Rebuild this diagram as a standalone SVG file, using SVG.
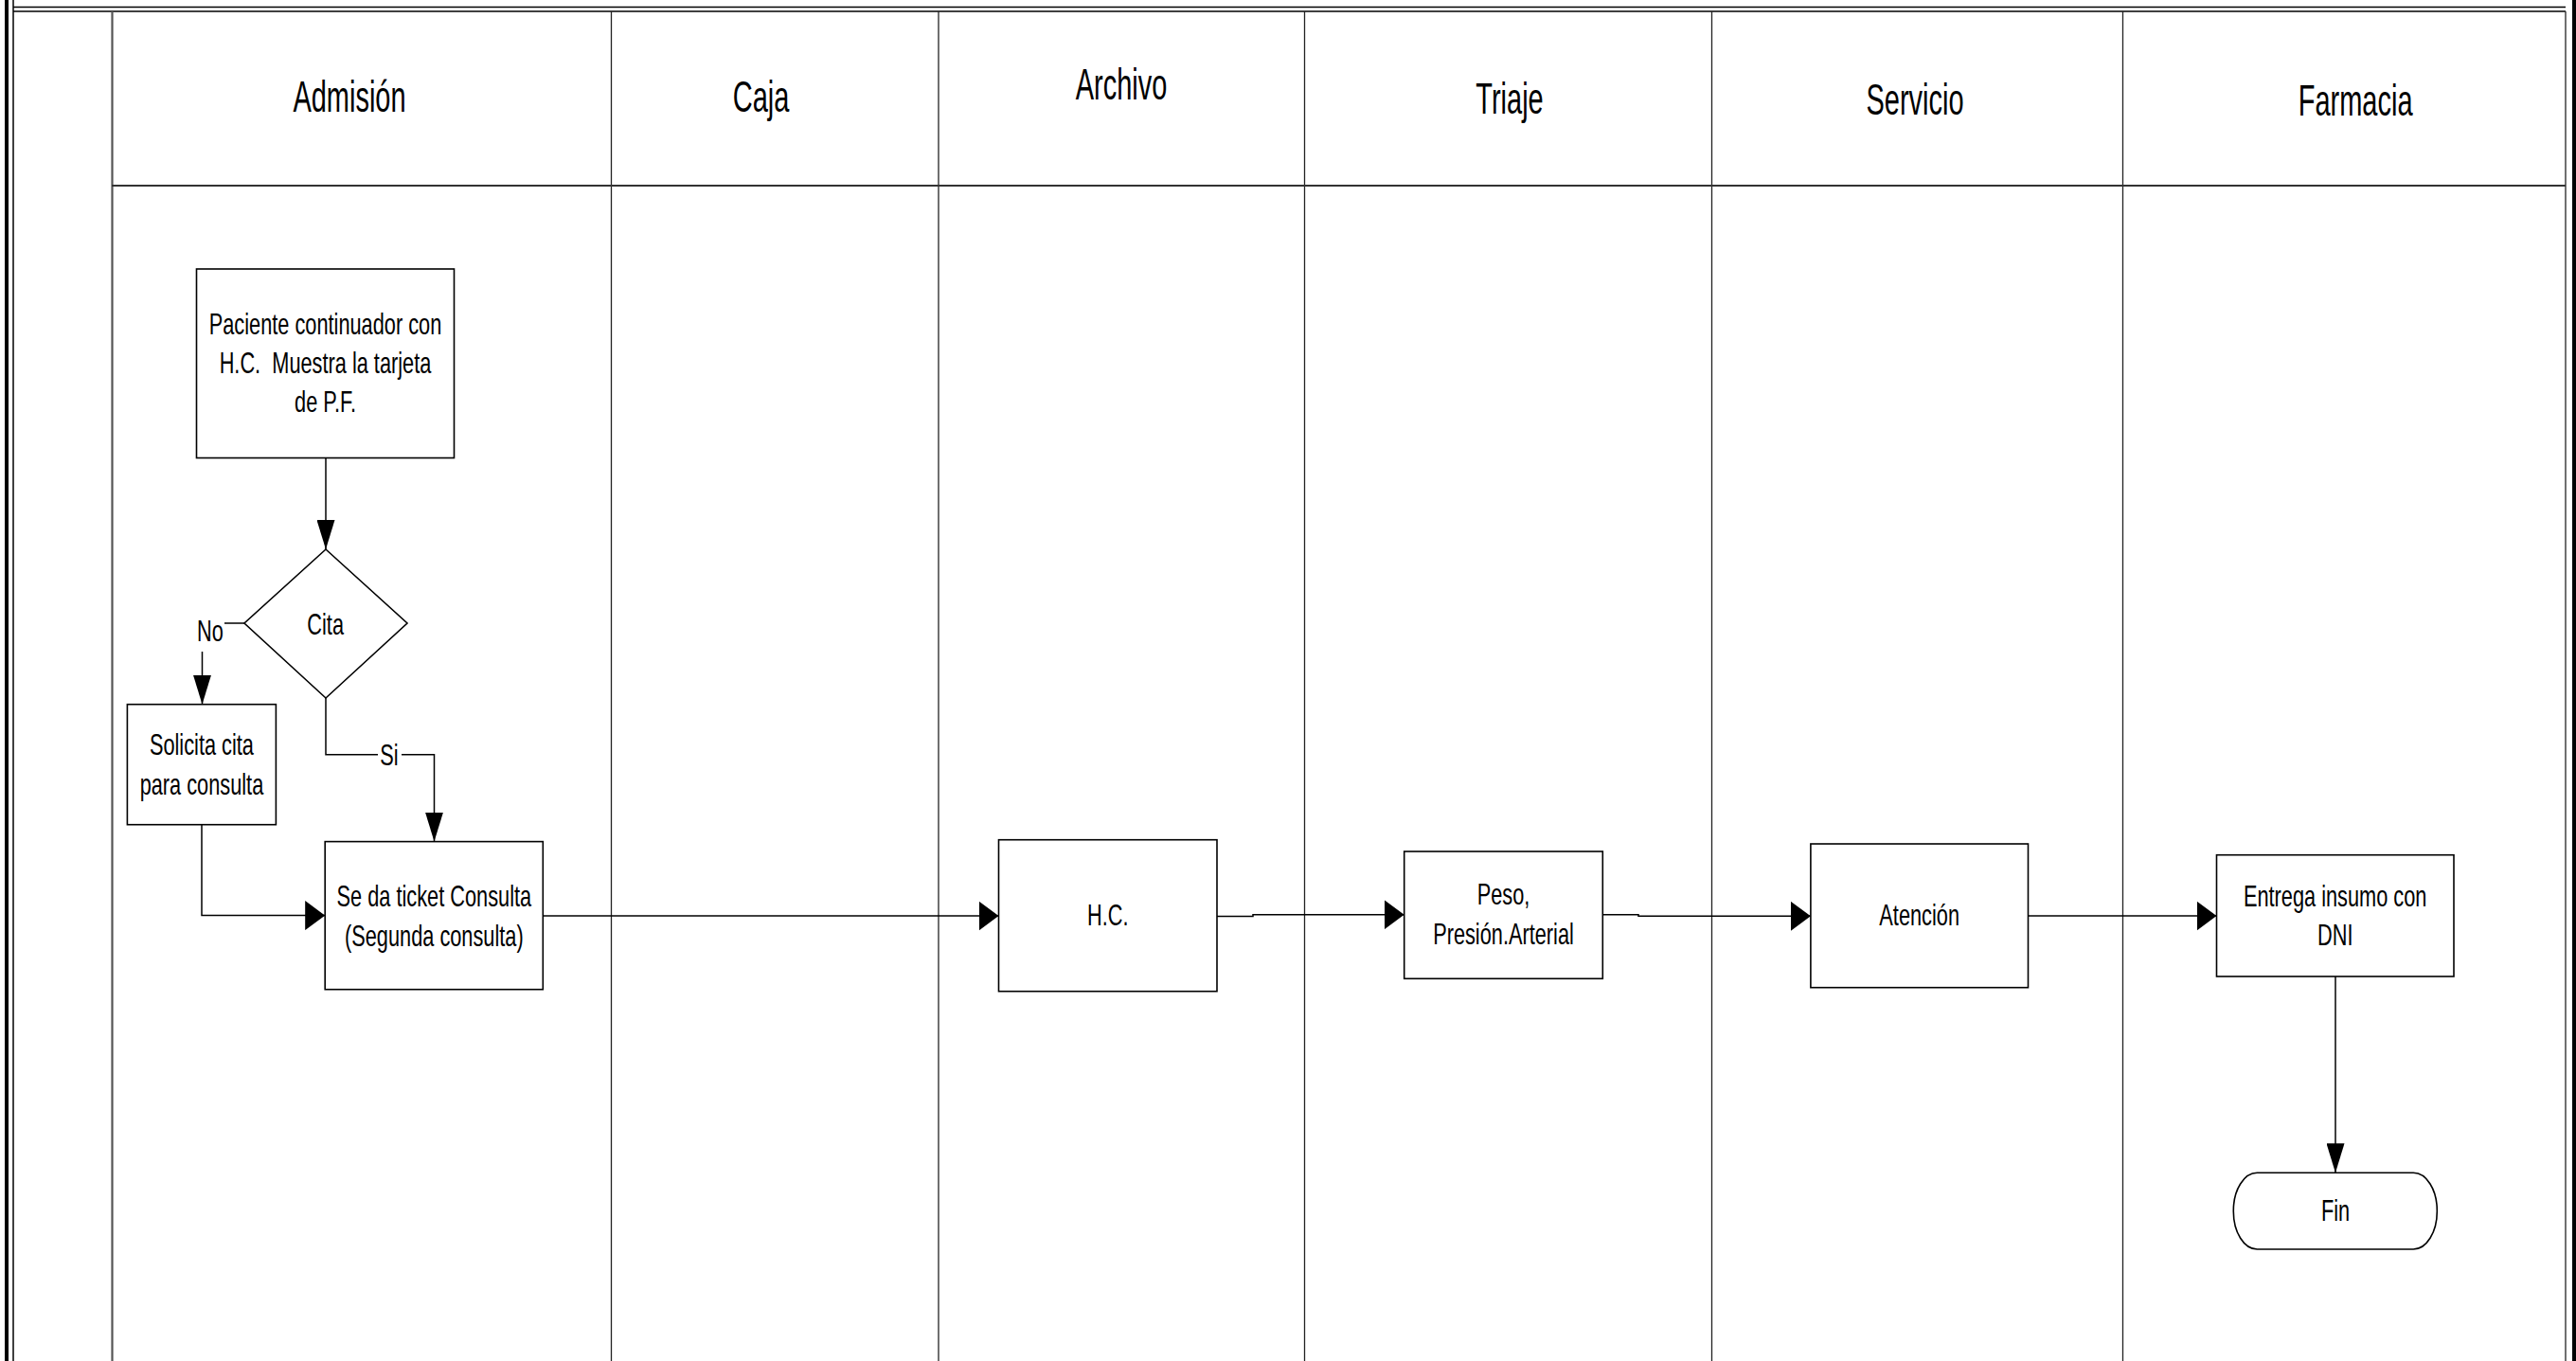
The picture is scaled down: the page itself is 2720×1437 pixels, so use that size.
<svg xmlns="http://www.w3.org/2000/svg" width="2720" height="1437" viewBox="0 0 2720 1437">
  <style>
    .frame { fill: none; stroke: #000; stroke-width: 1.5; }
    .lane { fill: none; stroke: #222; stroke-width: 1.3; }
    .lane-first { fill: none; stroke: #555; stroke-width: 2.2; }
    .shape { fill: #fff; stroke: #000; stroke-width: 1.6; }
    .conn { fill: none; stroke: #000; stroke-width: 1.5; }
    .hd, .tx {
      font-family: "Liberation Sans", Arial, sans-serif;
      fill: #000;
      text-anchor: middle;
      white-space: pre;
      transform-box: fill-box;
      transform-origin: center;
    }
    .hd { font-size: 46px; transform: scaleX(0.63); }
    .tx { font-size: 32px; transform: scaleX(0.68); }
    .lblbg { fill: #fff; stroke: none; }
  </style>
  <defs>
    <marker id="arrH" viewBox="0 0 21 31" refX="21" refY="15.5" markerWidth="21" markerHeight="31" markerUnits="userSpaceOnUse" orient="auto">
      <path d="M0,0 L21,15.5 L0,31 z" fill="#000"/>
    </marker>
    <marker id="arrV" viewBox="0 0 31 19" refX="31" refY="9.5" markerWidth="31" markerHeight="19" markerUnits="userSpaceOnUse" orient="auto">
      <path d="M0,0 L31,9.5 L0,19 z" fill="#000"/>
    </marker>
  </defs>

  <rect x="0" y="0" width="2720" height="1437" fill="#fff"/>

  <!-- outer frame: heavy side bars and double top rule -->
  <g id="frame">
    <rect x="5" y="0" width="4" height="1437" fill="#000"/>
    <rect x="2716" y="0" width="4" height="1437" fill="#000"/>
    <line class="frame" x1="14" y1="0" x2="14" y2="1437"/>
    <line class="frame" x1="14" y1="7.5" x2="2709" y2="7.5"/>
    <line class="frame" x1="14" y1="12" x2="2709" y2="12"/>
  </g>

  <!-- swimlane grid and headers -->
  <g id="lanes">
    <line class="lane-first" x1="118.5" y1="12" x2="118.5" y2="1437"/>
    <line class="lane" x1="645.5" y1="12" x2="645.5" y2="1437"/>
    <line class="lane" x1="991" y1="12" x2="991" y2="1437"/>
    <line class="lane" x1="1377.5" y1="12" x2="1377.5" y2="1437"/>
    <line class="lane" x1="1807.5" y1="12" x2="1807.5" y2="1437"/>
    <line class="lane" x1="2241.5" y1="12" x2="2241.5" y2="1437"/>
    <line class="lane" x1="2709" y1="12" x2="2709" y2="1437"/>
    <line x1="118" y1="196" x2="2709" y2="196" stroke="#333" stroke-width="2.2"/>
    <text class="hd" x="369" y="118">Admisión</text>
    <text class="hd" x="803.5" y="118">Caja</text>
    <text class="hd" x="1184" y="105">Archivo</text>
    <text class="hd" x="1594" y="120">Triaje</text>
    <text class="hd" x="2022" y="121">Servicio</text>
    <text class="hd" x="2487" y="122">Farmacia</text>
  </g>

  <!-- connectors -->
  <g id="connectors">
    <path class="conn" d="M344 483.5 V580" marker-end="url(#arrV)"/>
    <path class="conn" d="M258 658 H213.5 V743.7" marker-end="url(#arrV)"/>
    <path class="conn" d="M344 737 V796.7 H458.5 V888.6" marker-end="url(#arrV)"/>
    <path class="conn" d="M213 870.7 V966.6 H343.2" marker-end="url(#arrH)"/>
    <path class="conn" d="M573.3 967 H1054.5" marker-end="url(#arrH)"/>
    <path class="conn" d="M1285 967.5 H1323 V965.8 H1482.7" marker-end="url(#arrH)"/>
    <path class="conn" d="M1692.3 965.8 H1730 V967.3 H1911.9" marker-end="url(#arrH)"/>
    <path class="conn" d="M2141.5 967 H2340.5" marker-end="url(#arrH)"/>
    <path class="conn" d="M2466 1031 V1238.3" marker-end="url(#arrV)"/>
    <rect class="lblbg" x="206" y="640" width="31" height="48"/>
    <text class="tx" x="222" y="677">No</text>
    <rect class="lblbg" x="399" y="784" width="25" height="26"/>
    <text class="tx" x="411" y="808">Si</text>
  </g>

  <!-- process nodes -->
  <g id="n-paciente">
    <rect class="shape" x="207.5" y="284" width="272" height="199.5"/>
    <text class="tx" x="343.5" y="353">Paciente continuador con<tspan x="343.5" dy="41">H.C.&#160; Muestra la tarjeta</tspan><tspan x="343.5" dy="41">de P.F.</tspan></text>
  </g>
  <g id="n-cita">
    <polygon class="shape" points="344,580 430,658 344,737 258,658"/>
    <text class="tx" x="343.5" y="670">Cita</text>
  </g>
  <g id="n-solicita">
    <rect class="shape" x="134.4" y="743.7" width="157" height="127"/>
    <text class="tx" x="212.8" y="797">Solicita cita<tspan x="212.8" dy="42">para consulta</tspan></text>
  </g>
  <g id="n-ticket">
    <rect class="shape" x="343.2" y="888.6" width="230.1" height="156.1"/>
    <text class="tx" x="458.2" y="957">Se da ticket Consulta<tspan x="458.2" dy="42">(Segunda consulta)</tspan></text>
  </g>
  <g id="n-hc">
    <rect class="shape" x="1054.5" y="886.7" width="230.5" height="160"/>
    <text class="tx" x="1169.7" y="977">H.C.</text>
  </g>
  <g id="n-peso">
    <rect class="shape" x="1482.7" y="899" width="209.6" height="134.3"/>
    <text class="tx" x="1587.5" y="955">Peso,<tspan x="1587.5" dy="41.7">Presión.Arterial</tspan></text>
  </g>
  <g id="n-atencion">
    <rect class="shape" x="1911.9" y="891" width="229.6" height="151.7"/>
    <text class="tx" x="2026.7" y="977">Atención</text>
  </g>
  <g id="n-entrega">
    <rect class="shape" x="2340.5" y="902.7" width="250.5" height="128.3"/>
    <text class="tx" x="2465.7" y="957">Entrega insumo con<tspan x="2465.7" dy="40.6">DNI</tspan></text>
  </g>
  <g id="n-fin">
    <rect class="shape" x="2358.3" y="1238.3" width="215" height="80.7" rx="25" ry="40"/>
    <text class="tx" x="2466" y="1289">Fin</text>
  </g>
</svg>
